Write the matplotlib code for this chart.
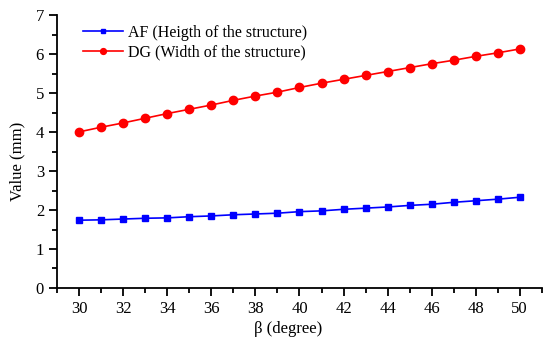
import numpy as np
import matplotlib.pyplot as plt
from matplotlib.ticker import MultipleLocator

plt.rcParams['font.family'] = ['Liberation Serif', 'DejaVu Serif']

# Donnees
beta = np.arange(30, 51)
af = [1.74, 1.75, 1.77, 1.79, 1.80, 1.83, 1.85, 1.88, 1.90, 1.92, 1.96,
      1.98, 2.02, 2.05, 2.08, 2.12, 2.15, 2.20, 2.24, 2.28, 2.33]
dg = [4.01, 4.13, 4.24, 4.36, 4.48, 4.59, 4.70, 4.82, 4.93, 5.03, 5.15,
      5.26, 5.36, 5.46, 5.56, 5.66, 5.76, 5.85, 5.95, 6.04, 6.14]

fig, ax = plt.subplots(figsize=(5.5, 3.44), dpi=100)
fig.subplots_adjust(left=0.104, right=0.985, top=0.955, bottom=0.163)

ax.plot(beta, af, color='#0000ff', marker='s', markersize=5, linewidth=1.2,
        label='AF (Heigth of the structure)')
ax.plot(beta, dg, color='#ff0000', marker='o', markersize=6, linewidth=1.2,
        label='DG (Width of the structure)')

ax.set_xlim(29, 51)
ax.set_ylim(0, 7)
ax.xaxis.set_major_locator(MultipleLocator(2))
ax.xaxis.set_minor_locator(MultipleLocator(1))
ax.yaxis.set_major_locator(MultipleLocator(1))
ax.yaxis.set_minor_locator(MultipleLocator(0.5))
ax.spines['top'].set_visible(False)
ax.spines['right'].set_visible(False)
for s in ['left', 'bottom']:
    ax.spines[s].set_linewidth(1.3)
ax.tick_params(which='major', direction='out', length=6, width=1.3, labelsize=12)
ax.tick_params(which='minor', direction='out', length=3.5, width=1.3)

ax.set_xlabel('β (degree)', fontsize=12)
ax.set_ylabel('Value (mm)', fontsize=12)
ax.xaxis.set_label_coords(0.476, -0.12)
ax.yaxis.set_label_coords(-0.066, 0.465)
ax.legend(loc='upper left', frameon=False, fontsize=11.5, handlelength=2.5,
          handletextpad=0.3, markerscale=0.7, borderaxespad=0.0,
          labelspacing=0.25, bbox_to_anchor=(0.04, 0.99))

fig.savefig('out.png', dpi=100)
